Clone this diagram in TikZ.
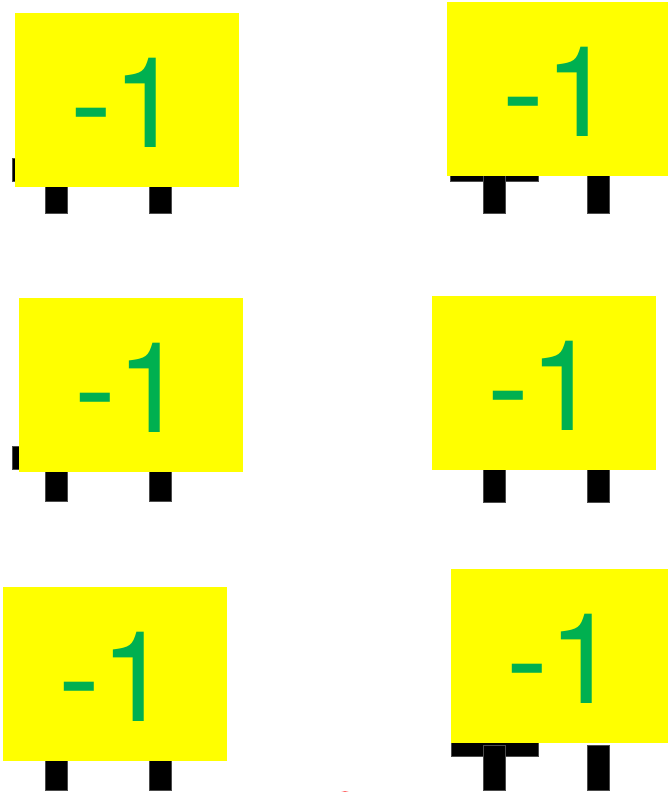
\documentclass[tikz,border=0pt]{standalone}
\usepackage{fontspec}
\newfontfamily\numfont{TeX Gyre Heros}
\definecolor{numgreen}{HTML}{00B050}
\definecolor{cardyellow}{HTML}{FFFF00}
\tikzset{
  card/.style={fill=cardyellow, draw=none, minimum width=224pt, minimum height=174pt, inner sep=0pt,
    text height=94pt, text depth=0pt,
    text=numgreen, font=\numfont\fontsize{126}{126}\selectfont},
  legbox/.style={fill=black, draw=black!70, line width=0.5pt},
  barbox/.style={fill=black, draw=black!70, line width=0.5pt}
}
\begin{document}
\begin{tikzpicture}[x=1pt,y=-1pt]
\clip (0,0) rectangle (668,792);
\fill[white] (0,0) rectangle (668,792);
% bars behind cards
\fill[barbox] (12,158) rectangle (100,181);
\fill[barbox] (450,158) rectangle (538,181);
\fill[barbox] (12,446) rectangle (100,469);
\fill[barbox] (451,733) rectangle (538,756);
% legs
\foreach \x/\yt/\yb in {45/175/213, 149/175/213, 45/460/501, 149/460/501, 45/750/790, 149/750/790}
  \fill[legbox] (\x,\yt) rectangle ++(22,\yb-\yt);
\foreach \x/\yt/\yb in {483/170/213, 587/170/213, 483/460/502, 587/460/502, 483/745/790, 587/745/790}
  \fill[legbox] (\x,\yt) rectangle ++(22,\yb-\yt);
% cards
\node[card] (c1) at (127,100) {-1};
\node[card] (c2) at (559,89) {-1};
\node[card] (c3) at (131,385) {-1};
\node[card] (c4) at (544,383) {-1};
\node[card] (c5) at (115,674) {-1};
\node[card] (c6) at (563,656) {-1};
% red arc at bottom edge
\draw[red!80, line width=1.5pt] (345,801) circle (9);
\end{tikzpicture}
\end{document}
